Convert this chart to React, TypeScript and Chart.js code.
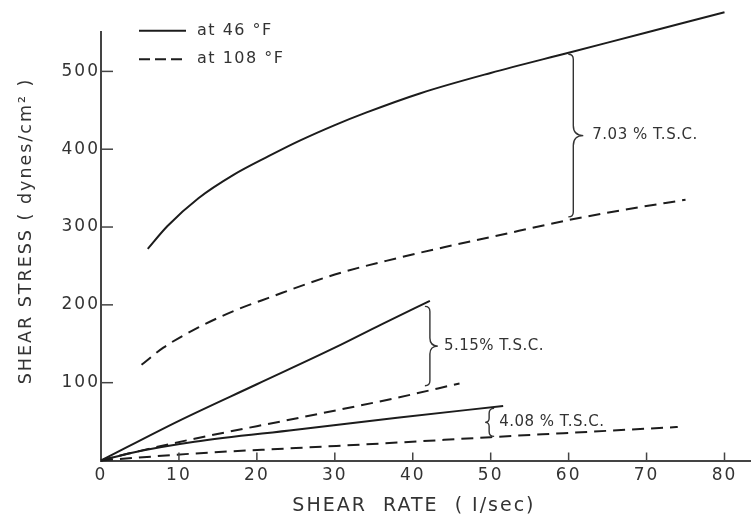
import { useEffect, useRef } from 'react';
import { Chart, registerables } from 'chart.js';

Chart.register(...registerables);

// Shear rate (1/sec) and shear stress (dynes/cm²) for each solids concentration
const rate703Cold = [6, 8.5, 12.5, 17, 21.5, 25.5, 30, 34, 41, 50, 60, 70, 80];
const stress703Cold = [272, 301, 337, 367, 391, 411, 431, 447, 472, 498, 524, 550, 576];

const rate703Warm = [5.2, 8, 12.5, 17, 21.5, 30, 38, 44, 50, 60, 67, 75];
const stress703Warm = [123, 145, 171, 192, 209, 239, 260, 274, 287, 309, 322, 335];

const rate515Cold = [0, 10, 20, 30, 36, 42.2];
const stress515Cold = [0, 51, 98, 145, 175, 205];

const rate515Warm = [0, 4, 12, 25, 37.7, 46];
const stress515Warm = [0, 10, 28, 54, 80, 99];

const rate408Cold = [0, 4, 12, 25, 38, 51.6];
const stress408Cold = [0, 10, 24, 39.5, 55, 70];

const rate408Warm = [0, 12, 25, 38, 50, 74];
const stress408Warm = [0, 9, 16, 23, 30, 43];

// Axis ranges and tick spacing
const rateMax = 83.4;
const stressMax = 551;
const rateStep = 10;
const stressStep = 100;

// Legend entries
const legendLabels = ['at 46 °F', 'at 108 °F'];

// Concentration brackets: where each brace sits and what it spans
const bracketLabels = ['7.03 % T.S.C.', '5.15% T.S.C.', '4.08 % T.S.C.'];
const bracketRate = [60.6, 42.2, 49.8];
const bracketUpper = [522, 198, 67];
const bracketLower = [313, 96, 31];

const INK = '#1c1c1c';
const TEXT = '#333';
const AXIS = '#444';
const FONT = 'DejaVu Sans';
const DASH = [12, 7];
const LEGEND_DASH = [11, 5];
const BRACE_STYLE = [
  { dir: 1, hook: 5, tip: 10, gap: 9 },
  { dir: 1, hook: 5, tip: 8, gap: 6 },
  { dir: -1, hook: 5, tip: 4, gap: 10 },
];

const zip = (xs: number[], ys: number[]) => xs.map((x, i) => ({ x, y: ys[i] }));

const series = (xs: number[], ys: number[], dashed: boolean) => ({
  data: zip(xs, ys),
  borderColor: INK,
  borderWidth: 2,
  borderDash: dashed ? DASH : [],
  pointRadius: 0,
  fill: false,
  clip: false,
  cubicInterpolationMode: 'monotone' as const,
});

function drawBrace(ctx: CanvasRenderingContext2D, x: number, yTop: number, yBot: number, dir: number, hook: number, tip: number) {
  const mid = (yTop + yBot) / 2;
  ctx.beginPath();
  ctx.moveTo(x - dir * hook, yTop);
  ctx.quadraticCurveTo(x, yTop, x, yTop + hook);
  ctx.lineTo(x, mid - tip);
  ctx.quadraticCurveTo(x, mid, x + dir * tip, mid);
  ctx.quadraticCurveTo(x, mid, x, mid + tip);
  ctx.lineTo(x, yBot - hook);
  ctx.quadraticCurveTo(x, yBot, x - dir * hook, yBot);
  ctx.stroke();
}

// Wide lettering for everything the scales draw
const letteringPlugin = {
  id: 'lettering',
  beforeDraw(chart: any) {
    (chart.ctx as any).letterSpacing = '2px';
  },
};

// Tick marks pointing into the plot, legend in the upper left, concentration braces
const decorPlugin = {
  id: 'decor',
  afterDraw(chart: any) {
    const ctx: CanvasRenderingContext2D = chart.ctx;
    const { left, top, bottom } = chart.chartArea;
    const xs = chart.scales.x;
    const ys = chart.scales.y;

    ctx.save();
    ctx.strokeStyle = AXIS;
    ctx.lineWidth = 1.5;
    ctx.setLineDash([]);
    for (const t of xs.ticks) {
      if (t.value === 0) continue;
      const px = xs.getPixelForValue(t.value);
      ctx.beginPath();
      ctx.moveTo(px, bottom);
      ctx.lineTo(px, bottom - 8);
      ctx.stroke();
    }
    for (const t of ys.ticks) {
      if (t.value === 0) continue;
      const py = ys.getPixelForValue(t.value);
      ctx.beginPath();
      ctx.moveTo(left, py);
      ctx.lineTo(left + 12, py);
      ctx.stroke();
    }

    // legend
    (ctx as any).letterSpacing = '1.5px';
    ctx.font = `16px "${FONT}"`;
    ctx.fillStyle = TEXT;
    ctx.textBaseline = 'middle';
    ctx.textAlign = 'left';
    legendLabels.forEach((label, i) => {
      const y = top - 1 + i * 28.5;
      ctx.strokeStyle = INK;
      ctx.lineWidth = 2;
      ctx.setLineDash(i === 0 ? [] : LEGEND_DASH);
      ctx.beginPath();
      ctx.moveTo(left + 38, y);
      ctx.lineTo(left + 85, y);
      ctx.stroke();
      ctx.fillText(label, left + 96, y);
    });

    // braces
    ctx.setLineDash([]);
    (ctx as any).letterSpacing = '0.5px';
    ctx.font = `15px "${FONT}"`;
    bracketLabels.forEach((label, i) => {
      const st = BRACE_STYLE[i];
      const bx = xs.getPixelForValue(bracketRate[i]);
      const yT = ys.getPixelForValue(bracketUpper[i]);
      const yB = ys.getPixelForValue(bracketLower[i]);
      ctx.strokeStyle = TEXT;
      ctx.lineWidth = 1.4;
      drawBrace(ctx, bx, yT, yB, st.dir, st.hook, st.tip);
      const tx = bx + (st.dir > 0 ? st.tip : 0) + st.gap;
      ctx.fillText(label, tx, (yT + yB) / 2);
    });
    ctx.restore();
  },
};

export default function App() {
  const canvasRef = useRef<HTMLCanvasElement | null>(null);

  useEffect(() => {
    const canvas = canvasRef.current;
    if (!canvas) return;
    const chart = new Chart(canvas, {
      type: 'line',
      data: {
        datasets: [
          series(rate703Cold, stress703Cold, false),
          series(rate703Warm, stress703Warm, true),
          series(rate515Cold, stress515Cold, false),
          series(rate515Warm, stress515Warm, true),
          series(rate408Cold, stress408Cold, false),
          series(rate408Warm, stress408Warm, true),
        ],
      },
      options: {
        animation: false,
        responsive: false,
        devicePixelRatio: 1,
        layout: { padding: { top: 31.7, right: 0, left: 0, bottom: 0 } },
        plugins: {
          legend: { display: false },
          tooltip: { enabled: false },
        },
        scales: {
          x: {
            type: 'linear',
            position: 'bottom',
            min: 0,
            max: rateMax,
            border: { display: true, color: AXIS, width: 2 },
            grid: { display: true, drawOnChartArea: false, drawTicks: false },
            ticks: {
              stepSize: rateStep,
              includeBounds: false,
              autoSkip: false,
              maxRotation: 0,
              padding: 5,
              color: TEXT,
              font: { family: FONT, size: 17 },
            },
            title: {
              display: true,
              text: 'SHEAR  RATE  ( I/sec)   ',
              color: TEXT,
              font: { family: FONT, size: 19 },
              padding: { top: 0, bottom: 1 },
            },
            afterFit: (s: any) => {
              s.height = 57.5;
            },
          },
          y: {
            type: 'linear',
            min: 0,
            max: stressMax,
            border: { display: true, color: AXIS, width: 2 },
            grid: { display: true, drawOnChartArea: false, drawTicks: false },
            ticks: {
              stepSize: stressStep,
              includeBounds: false,
              autoSkip: false,
              padding: 1,
              color: TEXT,
              font: { family: FONT, size: 17 },
              callback: (v: any) => (v === 0 ? '' : String(v)),
            },
            title: {
              display: true,
              text: '    SHEAR STRESS ( dynes/cm² )',
              color: TEXT,
              font: { family: FONT, size: 17.5 },
              padding: { top: 15.5, bottom: 0 },
            },
            afterFit: (s: any) => {
              s.width = 101;
            },
          },
        },
      },
      plugins: [letteringPlugin, decorPlugin],
    } as any);
    return () => chart.destroy();
  }, []);

  return (
    <div style={{ position: 'absolute', left: 0, top: 0, width: 751, height: 518, background: '#fff' }}>
      <canvas ref={canvasRef} width={751} height={518} style={{ display: 'block' }} />
    </div>
  );
}
